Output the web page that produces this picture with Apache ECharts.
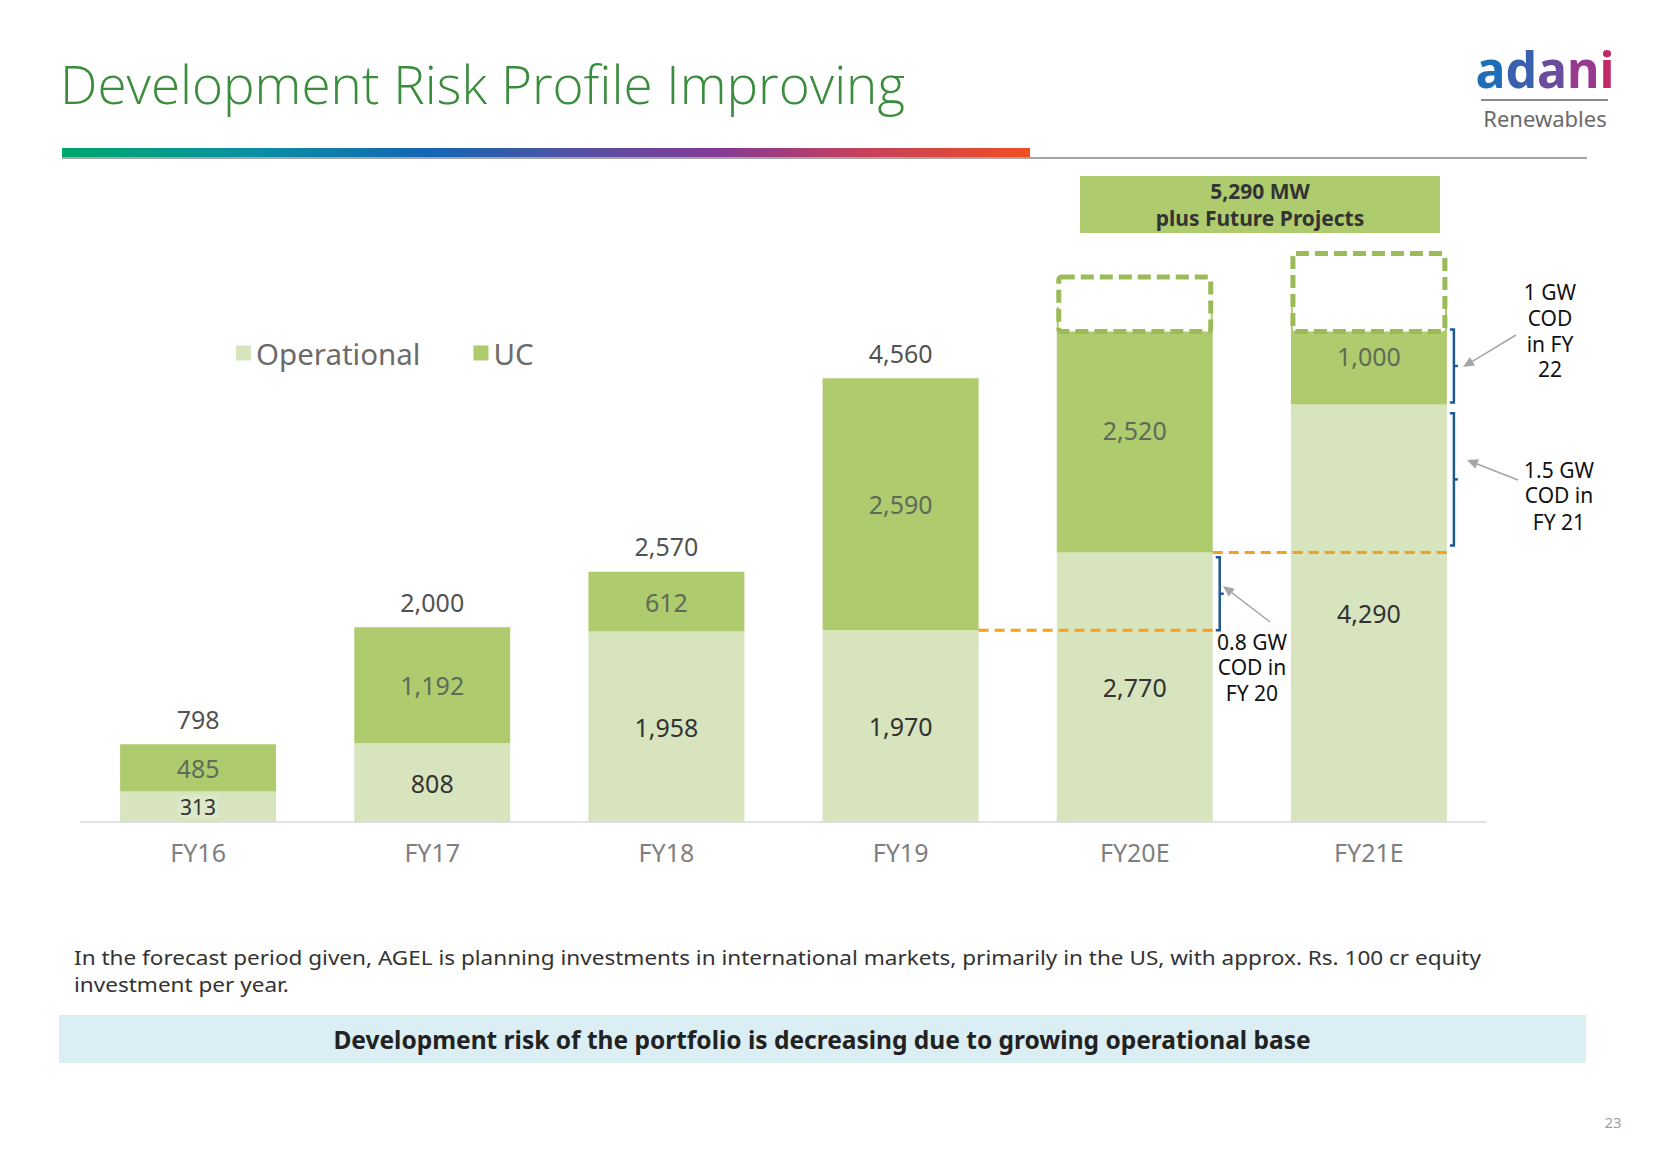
<!DOCTYPE html>
<html><head><meta charset="utf-8">
<script src="https://cdn.jsdelivr.net/npm/echarts@6/dist/echarts.min.js"></script>
<style>html,body{margin:0;padding:0;background:#fff}#c{width:1653px;height:1165px}</style>
</head><body><div id="c"></div>
<script>
// ---- data ----
const categories = ['FY16', 'FY17', 'FY18', 'FY19', 'FY20E', 'FY21E'];
const operational = [313, 808, 1958, 1970, 2770, 4290];
const uc = [485, 1192, 612, 2590, 2520, 1000];
const totals = [798, 2000, 2570, 4560, null, null];
// dashed "future projects" boxes: [category index, bottom MW, top MW]
const futureBoxes = [[4, 5040, 5600], [5, 5040, 5840]];
// orange dashed level lines: [from category, to category, MW]
const codLevels = [[3, 4, 1970], [4, 5, 2770]];
// COD brackets: [category index, from MW, to MW]
const codBrackets = [[4, 1970, 2720], [5, 2840, 4200], [5, 4310, 5060]];

const OP_COLOR = '#D7E4BD', UC_COLOR = '#AECB6E';
const BAR_FRAC = 0.666;
const FONT = 'Noto Sans';

function arrow(x1, y1, x2, y2) {
  const ang = Math.atan2(y2 - y1, x2 - x1), L = 11, W = 5;
  const bx = x2 - L * Math.cos(ang), by = y2 - L * Math.sin(ang);
  const px = -Math.sin(ang) * W, py = Math.cos(ang) * W;
  return {
    type: 'group', children: [
      { type: 'line', shape: { x1: x1, y1: y1, x2: bx, y2: by }, style: { stroke: '#A6A6A6', lineWidth: 1.5 } },
      { type: 'polygon', shape: { points: [[x2, y2], [bx + px, by + py], [bx - px, by - py]] }, style: { fill: '#A6A6A6' } }
    ]
  };
}
function txt(x, y, text, size, color, weight, align, family) {
  return { type: 'text', x: x, y: y, style: { text: text, fontSize: size, fontFamily: family || FONT, fontWeight: weight || 'normal', fill: color, textAlign: align || 'left', textVerticalAlign: 'middle' } };
}

const opData = operational.map((v, i) => i === 0 ? { value: v, label: { fontSize: 21, backgroundColor: '#DDE8C8', padding: [1, 3] } } : v);

const chart = echarts.init(document.getElementById('c'), null, { renderer: 'svg' });
chart.setOption({
  animation: false,
  backgroundColor: '#fff',
  grid: { left: 81, right: 167, top: 238, bottom: 343 },
  legend: {
    left: 231, top: 333, itemWidth: 15, itemHeight: 15, itemGap: 53, icon: 'rect',
    textStyle: { fontSize: 29.5, color: '#6b6b6b', fontFamily: FONT },
    data: ['Operational', 'UC']
  },
  xAxis: {
    type: 'category', data: categories,
    axisLine: { lineStyle: { color: '#D9D9D9', width: 1.5 } },
    axisTick: { show: false },
    axisLabel: { fontSize: 25, color: '#7f7f7f', fontFamily: FONT, margin: 17 }
  },
  yAxis: { type: 'value', min: 0, max: 6000, show: false, splitLine: { show: false } },
  series: [
    {
      name: 'Operational', type: 'bar', stack: 't', barWidth: '66.6%', data: opData,
      itemStyle: { color: OP_COLOR },
      label: { show: true, position: 'inside', fontSize: 25, color: '#333', fontFamily: FONT, formatter: p => p.value.toLocaleString('en-US') }
    },
    {
      name: 'UC', type: 'bar', stack: 't', barWidth: '66.6%', data: uc,
      itemStyle: { color: UC_COLOR },
      label: { show: true, position: 'inside', fontSize: 25, color: '#5F6B58', fontFamily: FONT, formatter: p => p.value.toLocaleString('en-US') }
    },
    {
      name: 'Total', type: 'scatter', symbolSize: 0, data: totals.map((v, i) => v == null ? null : [i, v]),
      label: { show: true, position: 'top', distance: 13, fontSize: 25, color: '#222', fontFamily: FONT, formatter: p => p.value[1].toLocaleString('en-US') },
      z: 5
    },
    {
      name: 'Future', type: 'custom', data: futureBoxes, encode: { x: 0, y: [1, 2] }, z: 10,
      renderItem: (params, api) => {
        const i = api.value(0);
        const bw = api.size([1, 0])[0] * BAR_FRAC;
        const p0 = api.coord([i, api.value(1)]);
        const p1 = api.coord([i, api.value(2)]);
        return { type: 'rect', shape: { x: p0[0] - bw / 2 + 2, y: p1[1], width: bw - 4, height: p0[1] - p1[1], r: 3 },
          style: { fill: '#fff', stroke: '#9BBB59', lineWidth: 5, lineDash: [13, 6], lineJoin: 'round' } };
      }
    },
    {
      name: 'Levels', type: 'custom', data: codLevels, encode: { x: [0, 1], y: 2 }, z: 9,
      renderItem: (params, api) => {
        const hw = api.size([1, 0])[0] * BAR_FRAC / 2;
        const a = api.coord([api.value(0), api.value(2)]);
        const b = api.coord([api.value(1), api.value(2)]);
        return { type: 'line', shape: { x1: a[0] + hw, y1: a[1], x2: b[0] + hw + 6, y2: b[1] },
          style: { stroke: '#F4A11E', lineWidth: 3, lineDash: [10, 6] } };
      }
    },
    {
      name: 'Brackets', type: 'custom', data: codBrackets, encode: { x: 0, y: [1, 2] }, z: 11,
      renderItem: (params, api) => {
        const i = api.value(0);
        const bw = api.size([1, 0])[0] * BAR_FRAC;
        const c0 = api.coord([i, api.value(1)]);
        const c1 = api.coord([i, api.value(2)]);
        const x = c0[0] + bw / 2 + 7;
        const ym = (c0[1] + c1[1]) / 2;
        const st = { stroke: '#1F5A96', lineWidth: 2.5, fill: null };
        return { type: 'group', children: [
          { type: 'polyline', shape: { points: [[x - 4, c1[1]], [x, c1[1]], [x, c0[1]], [x - 4, c0[1]]] }, style: st },
          { type: 'line', shape: { x1: x, y1: ym, x2: x + 4, y2: ym }, style: st }
        ] };
      }
    }
  ],
  graphic: [
    // title
    txt(60, 83, 'Development Risk Profile Improving', 53, '#3A8D3C', 300, 'left', 'Open Sans'),
    // gradient rule
    { type: 'line', shape: { x1: 62, y1: 158, x2: 1587, y2: 158 }, style: { stroke: '#A6A6A6', lineWidth: 2 } },
    { type: 'rect', shape: { x: 62, y: 148, width: 968, height: 9 },
      style: { fill: new echarts.graphic.LinearGradient(0, 0, 1, 0, [
        { offset: 0, color: '#00A86B' }, { offset: 0.2, color: '#0B8FA3' }, { offset: 0.38, color: '#1466B3' },
        { offset: 0.55, color: '#5B4FA2' }, { offset: 0.68, color: '#853A95' }, { offset: 0.82, color: '#C4405F' },
        { offset: 1, color: '#F04E23' }]) } },
    // logo
    { type: 'text', x: 1545, y: 69, style: { text: '{a|a}{b|d}{c|a}{d|n}{e|i}', fontSize: 50, fontFamily: FONT, fontWeight: 'bold', textAlign: 'center', textVerticalAlign: 'middle',
      rich: { a: { fill: '#1E6DB6', fontSize: 50, fontWeight: 'bold', fontFamily: FONT }, b: { fill: '#3A5FAE', fontSize: 50, fontWeight: 'bold', fontFamily: FONT }, c: { fill: '#6A4C9E', fontSize: 50, fontWeight: 'bold', fontFamily: FONT },
              d: { fill: '#99398D', fontSize: 50, fontWeight: 'bold', fontFamily: FONT }, e: { fill: '#C12A67', fontSize: 50, fontWeight: 'bold', fontFamily: FONT } } } },
    { type: 'line', shape: { x1: 1481, y1: 100, x2: 1608, y2: 100 }, style: { stroke: '#8A8A8A', lineWidth: 2 } },
    txt(1545, 118, 'Renewables', 22, '#6A6A6A', 'normal', 'center'),
    // top box
    { type: 'rect', shape: { x: 1080, y: 176, width: 360, height: 57 }, style: { fill: UC_COLOR } },
    txt(1260, 191, '5,290 MW', 21, '#333', 'bold', 'center'),
    txt(1260, 218, 'plus Future Projects', 21, '#333', 'bold', 'center'),
    // annotations
    txt(1252, 642, '0.8 GW', 21, '#111', 'normal', 'center'),
    txt(1252, 667, 'COD in', 21, '#111', 'normal', 'center'),
    txt(1252, 693, 'FY 20', 21, '#111', 'normal', 'center'),
    txt(1559, 470, '1.5 GW', 21, '#111', 'normal', 'center'),
    txt(1559, 495, 'COD in', 21, '#111', 'normal', 'center'),
    txt(1559, 522, 'FY 21', 21, '#111', 'normal', 'center'),
    txt(1550, 292, '1 GW', 21, '#111', 'normal', 'center'),
    txt(1550, 318, 'COD', 21, '#111', 'normal', 'center'),
    txt(1550, 344, 'in FY', 21, '#111', 'normal', 'center'),
    txt(1550, 369, '22', 21, '#111', 'normal', 'center'),
    arrow(1270, 622, 1223, 586),
    arrow(1518, 480, 1467, 460),
    arrow(1516, 335, 1463, 367),
    // bottom text
    Object.assign(txt(74, 957, 'In the forecast period given, AGEL is planning investments in international markets, primarily in the US, with approx. Rs. 100 cr equity', 20.5, '#333'), { scaleX: 1.1 }),
    Object.assign(txt(74, 984, 'investment per year.', 20.5, '#333'), { scaleX: 1.1 }),
    { type: 'rect', shape: { x: 59, y: 1015, width: 1527, height: 48 }, style: { fill: '#DAEEF3' } },
    txt(822, 1039, 'Development risk of the portfolio is decreasing due to growing operational base', 24.5, '#222', 'bold', 'center'),
    txt(1613, 1122, '23', 15, '#A0A0A0', 'normal', 'center')
  ]
});
</script></body></html>
